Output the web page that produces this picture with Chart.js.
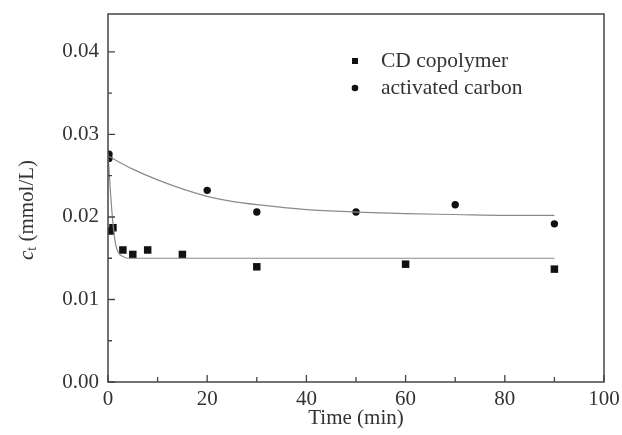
<!DOCTYPE html>
<html>
<head>
<meta charset="utf-8">
<script src="https://cdn.jsdelivr.net/npm/chart.js@4.4.1/dist/chart.umd.min.js"></script>
<style>
  html, body { margin: 0; padding: 0; background: #fff; }
  #wrap { width: 622px; height: 435px; position: relative; }
</style>
</head>
<body>
<div id="wrap"><canvas id="chart"></canvas></div>
<script>
// measured points
const cdTime = [0.5, 1, 3, 5, 8, 15, 30, 60, 90];
const cdConc = [0.0183, 0.0187, 0.0160, 0.01546, 0.0160, 0.01546, 0.01396, 0.01428, 0.01368];
const acTime = [0.2, 0.2, 20, 30, 50, 70, 90];
const acConc = [0.0276, 0.0271, 0.02323, 0.0206, 0.0206, 0.02148, 0.01917];

// fitted curves
const cdFitTime = [0, 0.5, 1, 1.5, 2, 3, 4, 90];
const cdFitConc = [0.0277, 0.0230, 0.0192, 0.0168, 0.0158, 0.0152, 0.0150, 0.0150];
const acFitTime = [0, 5, 10, 15, 20, 25, 30, 40, 50, 60, 70, 80, 90];
const acFitConc = [0.0274, 0.0258, 0.0245, 0.0234, 0.0225, 0.0219, 0.0215, 0.0209, 0.0206, 0.0204, 0.0203, 0.0202, 0.0202];

const seriesLabels = ['CD copolymer', 'activated carbon'];
const xTicks = [0, 20, 40, 60, 80, 100];

const FONT = '"Liberation Serif", "Times New Roman", serif';
const TXT = '#333';
const AXIS = '#444';

function pts(xs, ys) {
    return xs.map((x, i) => ({ x: x, y: ys[i] }));
}

function isMultiple(v, step) {
    const q = v / step;
    return Math.abs(q - Math.round(q)) < 1e-6;
}

// frame, inward ticks, legend and y title
const decor = {
    id: 'decor',
    afterDraw(chart) {
        const ctx = chart.ctx;
        const a = chart.chartArea;
        const xs = chart.scales.x;
        const ys = chart.scales.y;
        ctx.save();
        ctx.strokeStyle = AXIS;
        ctx.lineWidth = 1.5;
        ctx.strokeRect(a.left, a.top, a.right - a.left, a.bottom - a.top);

        ctx.lineWidth = 1.3;
        ctx.beginPath();
        xs.ticks.forEach(t => {
            if (!isMultiple(t.value, 10)) return;
            const px = xs.getPixelForValue(t.value);
            const len = isMultiple(t.value, 20) ? 7 : 5;
            ctx.moveTo(px, a.bottom);
            ctx.lineTo(px, a.bottom - len);
        });
        ys.ticks.forEach(t => {
            if (!isMultiple(t.value, 0.005)) return;
            const py = ys.getPixelForValue(t.value);
            const len = isMultiple(t.value, 0.01) ? 7 : 4;
            ctx.moveTo(a.left, py);
            ctx.lineTo(a.left + len, py);
        });
        ctx.stroke();

        // legend
        ctx.fillStyle = '#111';
        ctx.fillRect(352, 58, 6, 6);
        ctx.beginPath();
        ctx.arc(355, 88, 3.3, 0, Math.PI * 2);
        ctx.fill();
        ctx.fillStyle = TXT;
        ctx.font = '21.5px ' + FONT;
        ctx.textBaseline = 'middle';
        ctx.textAlign = 'left';
        ctx.fillText(seriesLabels[0], 381, 61);
        ctx.fillText(seriesLabels[1], 381, 88);

        // y title: c_t (mmol/L)
        ctx.translate(27, 210);
        ctx.rotate(-Math.PI / 2);
        ctx.textBaseline = 'middle';
        ctx.font = 'italic 21px ' + FONT;
        const cW = ctx.measureText('c').width;
        ctx.font = '14px ' + FONT;
        const tW = ctx.measureText('t').width;
        ctx.font = '21px ' + FONT;
        const rest = ' (mmol/L)';
        const rW = ctx.measureText(rest).width;
        let x0 = -(cW + tW + rW) / 2;
        ctx.font = 'italic 21px ' + FONT;
        ctx.fillText('c', x0, 0);
        ctx.font = '14px ' + FONT;
        ctx.fillText('t', x0 + cW, 5);
        ctx.font = '21px ' + FONT;
        ctx.fillText(rest, x0 + cW + tW, 0);
        ctx.restore();
    }
};

const ctx = document.getElementById('chart').getContext('2d');
new Chart(ctx, {
    type: 'scatter',
    data: {
        datasets: [
            {
                label: 'CD fit',
                type: 'line',
                data: pts(cdFitTime, cdFitConc),
                borderColor: '#8a8a8a',
                borderWidth: 1.2,
                pointRadius: 0,
                cubicInterpolationMode: 'monotone',
                fill: false
            },
            {
                label: 'AC fit',
                type: 'line',
                data: pts(acFitTime, acFitConc),
                borderColor: '#8a8a8a',
                borderWidth: 1.2,
                pointRadius: 0,
                cubicInterpolationMode: 'monotone',
                fill: false
            },
            {
                label: seriesLabels[0],
                data: pts(cdTime, cdConc),
                pointStyle: 'rect',
                pointRadius: 5.3,
                backgroundColor: '#111',
                borderColor: '#111',
                borderWidth: 0
            },
            {
                label: seriesLabels[1],
                data: pts(acTime, acConc),
                pointStyle: 'circle',
                pointRadius: 3.7,
                backgroundColor: '#111',
                borderColor: '#111',
                borderWidth: 0
            }
        ]
    },
    options: {
        responsive: true,
        maintainAspectRatio: false,
        animation: false,
        layout: { padding: { top: 14, right: 18, left: 0, bottom: 0 } },
        plugins: {
            legend: { display: false },
            tooltip: { enabled: false }
        },
        scales: {
            x: {
                type: 'linear',
                min: 0,
                max: 100,
                grid: { display: false, tickLength: 0 },
                border: { display: false },
                afterFit(s) {
                    s.height = 53;
                    s.paddingLeft = 0;
                    s.paddingRight = 0;
                },
                ticks: {
                    stepSize: 10,
                    autoSkip: false,
                    maxRotation: 0,
                    padding: 5,
                    color: TXT,
                    font: { family: FONT, size: 21 },
                    callback: v => (xTicks.includes(v) ? String(v) : '')
                },
                title: {
                    display: true,
                    text: 'Time (min)',
                    color: TXT,
                    font: { family: FONT, size: 21 },
                    padding: { top: 0, bottom: 4 }
                }
            },
            y: {
                type: 'linear',
                min: 0,
                max: 0.0446,
                grid: { display: false, tickLength: 0 },
                border: { display: false },
                afterFit(s) {
                    s.width = 108;
                    s.paddingTop = 0;
                    s.paddingBottom = 0;
                },
                ticks: {
                    stepSize: 0.005,
                    autoSkip: false,
                    padding: 9,
                    color: TXT,
                    font: { family: FONT, size: 21 },
                    callback: v => (isMultiple(v, 0.01) ? v.toFixed(2) : '')
                }
            }
        }
    },
    plugins: [decor]
});
</script>
</body>
</html>
